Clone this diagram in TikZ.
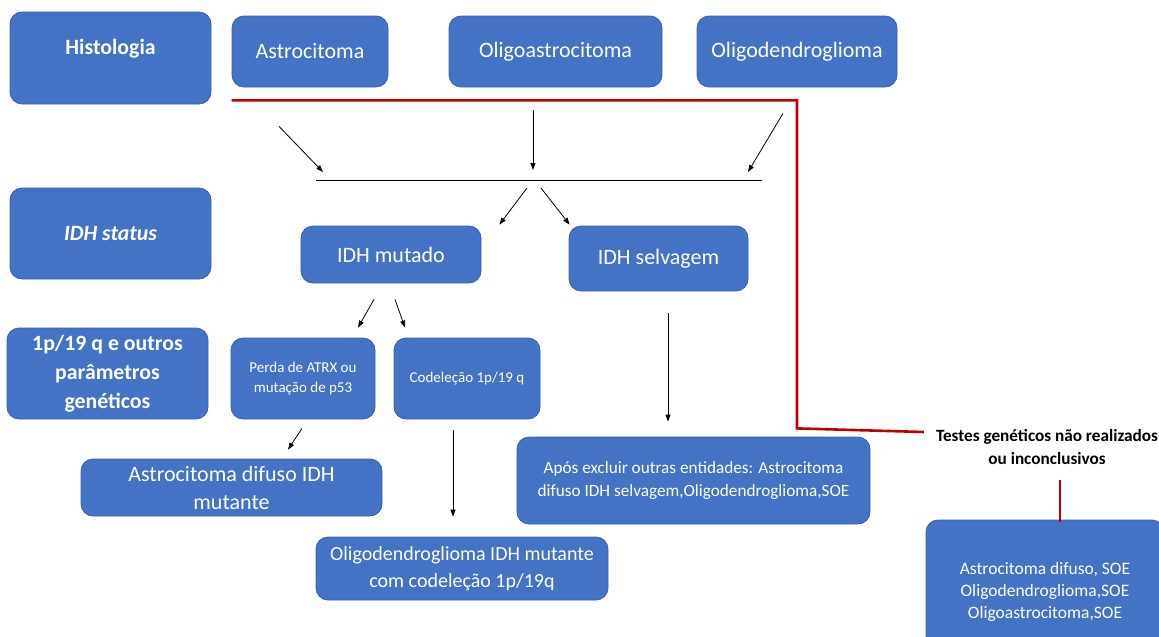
\documentclass[tikz,border=0pt]{standalone}
\usepackage{fontspec}
\setmainfont{Carlito}
\usetikzlibrary{calc, arrows.meta, positioning}
\definecolor{boxblue}{HTML}{4472C4}
\definecolor{boxedge}{HTML}{3A62A8}
\definecolor{testred}{HTML}{C00000}

\begin{document}
\begin{tikzpicture}[
        x=1pt, y=-1pt,
        box/.style = {draw=boxedge, fill=boxblue, rounded corners=12pt, align=center, text=white, line width=0.8pt, inner sep=2pt},
        rowhead/.style = {box, minimum width=201pt, minimum height=92pt, font=\fontsize{21.8}{29}\selectfont\bfseries},
        bigtext/.style = {box, font=\fontsize{22}{28}\selectfont},
        midtext/.style = {box, font=\fontsize{17.2}{23}\selectfont},
        smalltext/.style = {box, font=\fontsize{15}{20}\selectfont},
        arrow/.style = {draw=black, line width=0.8pt, -{Triangle[length=7pt, width=5pt]}},
        redpath/.style = {draw=testred, line width=2.6pt}
    ]
        \useasboundingbox (0,0) rectangle (1159,637);

        % Left column: row headers
        \node (histo) [rowhead, text depth=23pt] at (110.5,58) {Histologia};
        \node (status) [rowhead, minimum height=91pt] at (110.5,233.5) {\itshape IDH status};
        \node (params) [rowhead, minimum height=91pt] at (107.5,373.5) {1p/19 q e outros\\parâmetros\\genéticos};

        % Row 1: histological types
        \node (astro) [bigtext, minimum width=156pt, minimum height=71pt] at (310,51.5) {Astrocitoma};
        \node (oligoastro) [bigtext, minimum width=213pt, minimum height=71pt] at (555.5,51.5) {Oligoastrocitoma};
        \node (oligodendro) [bigtext, minimum width=200pt, minimum height=71pt] at (797,51.5) {Oligodendroglioma};

        % Collecting bar
        \coordinate (barL) at (316,180);
        \coordinate (barR) at (762,180);
        \coordinate (barmid) at (533,180);
        \draw [line width=0.8pt] (barL) -- (barR);

        % Row 2: IDH
        \node (idhmut) [bigtext, minimum width=180pt, minimum height=57pt] at (391,254.5) {IDH mutado};
        \node (idhsel) [bigtext, minimum width=179pt, minimum height=65pt] at (658.5,258.5) {IDH selvagem};

        % Row 3: genetic parameters
        \node (perda) [smalltext, minimum width=144pt, minimum height=81pt] at (303,378.5) {Perda de ATRX ou\\mutação de p53};
        \node (codel) [smalltext, minimum width=146pt, minimum height=81pt] at (467,378.5) {Codeleção 1p/19 q};

        % Row 4: diagnoses
        \node (astrodif) [bigtext, minimum width=301pt, minimum height=57pt] at (231.5,487.5) {Astrocitoma difuso IDH\\mutante};
        \node (apos) [midtext, minimum width=353pt, minimum height=87pt] at (693.5,480.5) {Após excluir outras entidades: Astrocitoma\\difuso IDH selvagem,Oligodendroglioma,SOE};
        \node (oligomut) [bigtext, font=\fontsize{20}{27}\selectfont, minimum width=292pt, minimum height=63pt] at (462,568.5) {Oligodendroglioma IDH mutante\\com codeleção 1p/19q};

        % Not tested branch
        \node (tests) [align=center, inner sep=1pt, font=\fontsize{17.2}{23}\selectfont\bfseries] at (1047,447) {Testes genéticos não realizados\\ou inconclusivos};
        \node (soe) [midtext, font=\fontsize{17.5}{22}\selectfont, minimum width=238pt, minimum height=144pt] at (1045,592) {Astrocitoma difuso, SOE\\Oligodendroglioma,SOE\\Oligoastrocitoma,SOE};

        % Arrows histology -> bar
        \draw [arrow] ($(astro.south)+(-31,39)$) -- ($(barL)+(7,-8)$);
        \draw [arrow] ($(oligoastro.south)+(-22.5,23)$) -- ($(barmid)+(0,-10)$);
        \draw [arrow] ($(oligodendro.south)+(-14,26)$) -- ($(barR)+(-14,-8)$);

        % Arrows bar -> IDH
        \draw [arrow] ($(barmid)+(-6,8)$) -- ($(idhmut.north east)+(18,-1)$);
        \draw [arrow] ($(barmid)+(8,8)$) -- ($(idhsel.north west)+(1,-1)$);

        % Arrows IDH -> parameters
        \draw [arrow] ($(idhmut.south)+(-17,16)$) -- ($(perda.north)+(55,-10)$);
        \draw [arrow] ($(idhmut.south)+(4,16)$) -- ($(codel.north)+(-62,-10)$);
        \draw [arrow] ($(idhsel.south)+(9.5,22)$) -- ($(apos.north)+(-25.5,-15)$);

        % Arrows parameters -> diagnoses
        \draw [arrow] ($(perda.south)+(-1,9)$) -- ($(astrodif.north)+(56.5,-9)$);
        \draw [arrow] ($(codel.south)+(-14,11)$) -- ($(oligomut.north)+(-9,-20)$);

        % Red path
        \draw [redpath] ($(astro.south west)+(0,13)$) -| ($(oligodendro.south)+(0,341)$) -- ($(tests.west)+(-11,-15)$);
        \draw [redpath] ($(soe.north)+(15,-40)$) -- ($(soe.north)+(15,2)$);

    \end{tikzpicture}
\end{document}
